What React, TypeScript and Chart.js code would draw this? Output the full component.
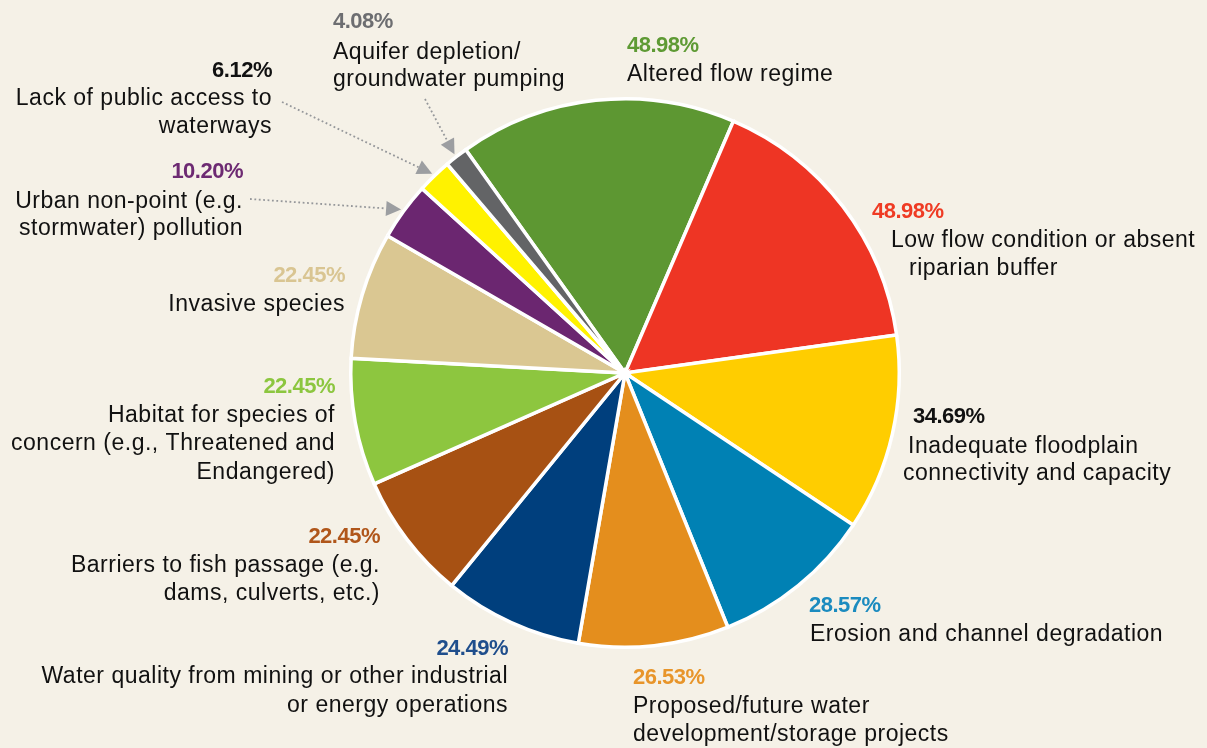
import React, { useEffect, useRef } from 'react';
import { Chart, registerables } from 'chart.js';

Chart.register(...registerables);

// ---- data ----
const categories = [
  'Altered flow regime',
  'Low flow condition or absent riparian buffer',
  'Inadequate floodplain connectivity and capacity',
  'Erosion and channel degradation',
  'Proposed/future water development/storage projects',
  'Water quality from mining or other industrial or energy operations',
  'Barriers to fish passage (e.g. dams, culverts, etc.)',
  'Habitat for species of concern (e.g., Threatened and Endangered)',
  'Invasive species',
  'Urban non-point (e.g. stormwater) pollution',
  'Lack of public access to waterways',
  'Aquifer depletion/groundwater pumping',
];
const values = [48.98, 48.98, 34.69, 28.57, 26.53, 24.49, 22.45, 22.45, 22.45, 10.2, 6.12, 4.08];
const percentLabels = ['48.98%', '48.98%', '34.69%', '28.57%', '26.53%', '24.49%', '22.45%', '22.45%', '22.45%', '10.20%', '6.12%', '4.08%'];
const labelLines = [
  ['Altered flow regime'],
  ['Low flow condition or absent', 'riparian buffer'],
  ['Inadequate floodplain', 'connectivity and capacity'],
  ['Erosion and channel degradation'],
  ['Proposed/future water', 'development/storage projects'],
  ['Water quality from mining or other industrial', 'or energy operations'],
  ['Barriers to fish passage (e.g.', 'dams, culverts, etc.)'],
  ['Habitat for species of', 'concern (e.g., Threatened and', 'Endangered)'],
  ['Invasive species'],
  ['Urban non-point (e.g.', 'stormwater) pollution'],
  ['Lack of public access to', 'waterways'],
  ['Aquifer depletion/', 'groundwater pumping'],
];

// ---- styles ----
const sliceColors = ['#5d9732', '#ee3524', '#ffcd00', '#0081b4', '#e48e1d', '#003f7d', '#a75113', '#8dc63f', '#dac792', '#6b2670', '#fff200', '#636466'];
const percentColors = ['#5e9a34', '#ef3b24', '#111111', '#1b8bbf', '#e8952a', '#1f4e8c', '#b0561a', '#8cc63f', '#d9c592', '#6d2a72', '#111111', '#6d6e71'];
const background = '#f5f1e7';

// ---- label layout (text annotation positions) ----
type Layout = { align: 'left' | 'right'; pct: [number, number]; lines: [number, number][]; arrowFrom?: [number, number] };
const labelLayout: Layout[] = [
  { align: 'left', pct: [627, 52], lines: [[627, 81]] },
  { align: 'left', pct: [872, 218], lines: [[891, 247], [909, 275]] },
  { align: 'left', pct: [913, 423], lines: [[908, 453], [903, 480]] },
  { align: 'left', pct: [809, 612], lines: [[810, 641]] },
  { align: 'left', pct: [633, 684], lines: [[633, 713], [633, 741]] },
  { align: 'right', pct: [508, 655], lines: [[508, 683], [508, 712]] },
  { align: 'right', pct: [380, 543], lines: [[380, 572], [380, 600]] },
  { align: 'right', pct: [335, 393], lines: [[335, 422], [335, 450], [335, 479]] },
  { align: 'right', pct: [345, 282], lines: [[345, 311]] },
  { align: 'right', pct: [243, 178], lines: [[243, 208], [243, 235]], arrowFrom: [250, 199] },
  { align: 'right', pct: [272, 77], lines: [[272, 105], [272, 133]], arrowFrom: [282, 102] },
  { align: 'left', pct: [333, 28], lines: [[333, 59], [333, 86]], arrowFrom: [425, 99] },
];

const FONT = '"Liberation Sans", Arial, Helvetica, sans-serif';

const labelsPlugin = {
  id: 'outerLabels',
  beforeDraw(chart: any) {
    const ctx = chart.ctx;
    ctx.save();
    ctx.fillStyle = background;
    ctx.fillRect(0, 0, chart.width, chart.height);
    ctx.restore();
  },
  afterDraw(chart: any) {
    const ctx = chart.ctx as CanvasRenderingContext2D;
    const meta = chart.getDatasetMeta(0);
    ctx.save();
    ctx.textBaseline = 'alphabetic';
    labelLayout.forEach((lay, i) => {
      ctx.textAlign = lay.align;
      ctx.font = `bold 22px ${FONT}`;
      (ctx as any).letterSpacing = '-0.5px';
      ctx.fillStyle = percentColors[i];
      ctx.fillText(percentLabels[i], lay.pct[0], lay.pct[1]);
      ctx.font = `23px ${FONT}`;
      (ctx as any).letterSpacing = '0.5px';
      ctx.fillStyle = '#111111';
      labelLines[i].forEach((line, j) => {
        const p = lay.lines[j];
        ctx.fillText(line, p[0], p[1]);
      });
      if (lay.arrowFrom) {
        const arc = meta.data[i];
        const { x, y, startAngle, endAngle, outerRadius } = arc.getProps(['x', 'y', 'startAngle', 'endAngle', 'outerRadius'], true);
        const mid = (startAngle + endAngle) / 2;
        const r = outerRadius + 3;
        const tx = x + Math.cos(mid) * r;
        const ty = y + Math.sin(mid) * r;
        const [fx, fy] = lay.arrowFrom;
        const ang = Math.atan2(ty - fy, tx - fx);
        const headLen = 15;
        const headW = 7.5;
        const bx = tx - Math.cos(ang) * headLen;
        const by = ty - Math.sin(ang) * headLen;
        ctx.strokeStyle = '#95979a';
        ctx.lineWidth = 1.8;
        ctx.setLineDash([1.8, 2.6]);
        ctx.beginPath();
        ctx.moveTo(fx, fy);
        ctx.lineTo(bx, by);
        ctx.stroke();
        ctx.setLineDash([]);
        ctx.fillStyle = '#9c9ea1';
        ctx.beginPath();
        ctx.moveTo(tx, ty);
        ctx.lineTo(bx + Math.sin(ang) * headW, by - Math.cos(ang) * headW);
        ctx.lineTo(bx - Math.sin(ang) * headW, by + Math.cos(ang) * headW);
        ctx.closePath();
        ctx.fill();
      }
    });
    ctx.restore();
  },
};

export default function App() {
  const ref = useRef<HTMLCanvasElement | null>(null);
  useEffect(() => {
    document.body.style.margin = '0';
    document.body.style.background = background;
    const canvas = ref.current;
    if (!canvas) return;
    const chart = new Chart(canvas, {
      type: 'pie',
      data: {
        labels: categories,
        datasets: [
          {
            data: values,
            backgroundColor: sliceColors,
            borderColor: '#ffffff',
            borderWidth: 3.5,
            borderJoinStyle: 'miter',
          },
        ],
      },
      options: {
        animation: false,
        responsive: false,
        devicePixelRatio: 1,
        rotation: -35.5,
        layout: { padding: { left: 349, right: 306, top: 97, bottom: 99 } },
        plugins: {
          legend: { display: false },
          tooltip: { enabled: false },
        },
      },
      plugins: [labelsPlugin],
    } as any);
    return () => chart.destroy();
  }, []);
  return (
    <div style={{ position: 'fixed', left: 0, top: 0, width: 1207, height: 748, background }}>
      <canvas ref={ref} width={1207} height={748} style={{ display: 'block', width: 1207, height: 748 }} />
    </div>
  );
}
